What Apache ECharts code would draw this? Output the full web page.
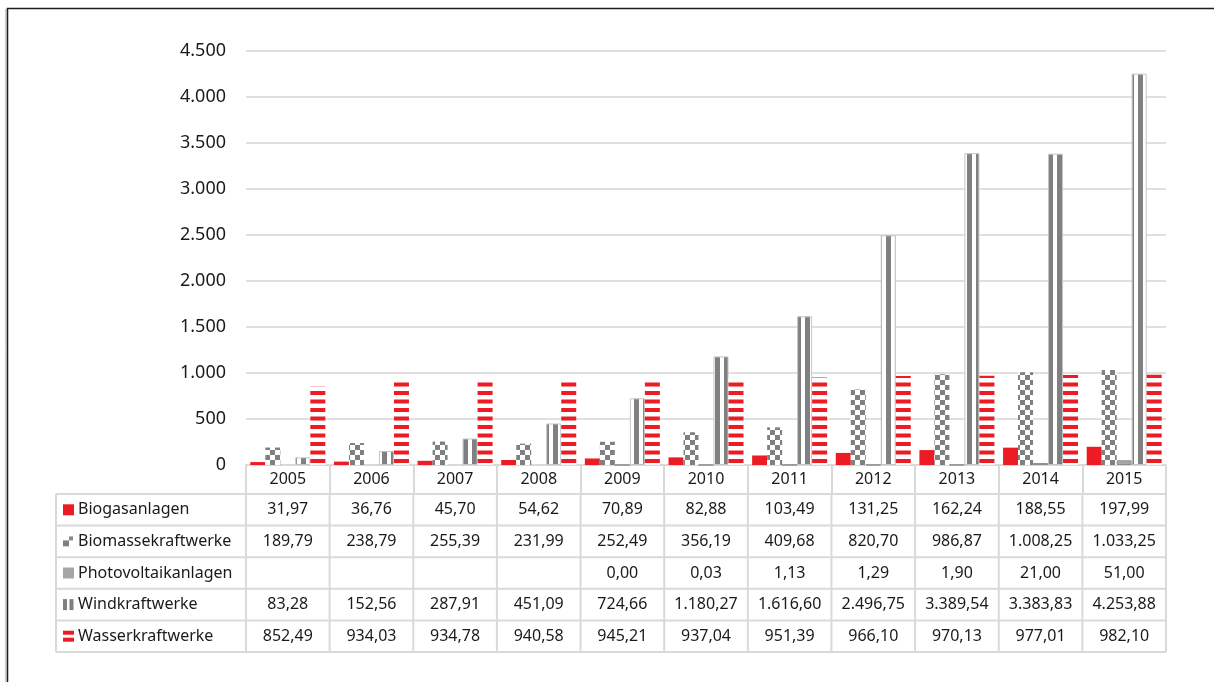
<!DOCTYPE html>
<html>
<head>
<meta charset="utf-8">
<script src="https://cdn.jsdelivr.net/npm/echarts@6/dist/echarts.min.js"></script>
<style>
html,body{margin:0;padding:0;background:#fff;}
#chart{width:1214px;height:682px;}
</style>
</head>
<body>
<div id="chart"></div>
<script>
// ---- data ----
const years = ['2005','2006','2007','2008','2009','2010','2011','2012','2013','2014','2015'];
const seriesNames = ['Biogasanlagen','Biomassekraftwerke','Photovoltaikanlagen','Windkraftwerke','Wasserkraftwerke'];
const biogas = [31.97,36.76,45.70,54.62,70.89,82.88,103.49,131.25,162.24,188.55,197.99];
const biomasse = [189.79,238.79,255.39,231.99,252.49,356.19,409.68,820.70,986.87,1008.25,1033.25];
const photovoltaik = [null,null,null,null,0.00,0.03,1.13,1.29,1.90,21.00,51.00];
const wind = [83.28,152.56,287.91,451.09,724.66,1180.27,1616.60,2496.75,3389.54,3383.83,4253.88];
const wasser = [852.49,934.03,934.78,940.58,945.21,937.04,951.39,966.10,970.13,977.01,982.10];
const yMin = 0, yMax = 4500, yStep = 500;

const allSeries = [biogas, biomasse, photovoltaik, wind, wasser];

// ---- styling helpers ----
const RED = '#ED1C24', GRAY = '#808080', PVGRAY = '#A6A6A6', LINE = '#D9D9D9';
const FONT = '"Noto Sans", "Open Sans", sans-serif';

function makeCanvas(w, h, draw) {
  const c = document.createElement('canvas');
  c.width = w; c.height = h;
  const g = c.getContext('2d');
  g.fillStyle = '#fff'; g.fillRect(0, 0, w, h);
  draw(g);
  return c;
}
const checker = makeCanvas(10, 10, g => {
  g.fillStyle = GRAY; g.fillRect(0, 0, 5, 5); g.fillRect(5, 5, 5, 5);
});
const vstripes = makeCanvas(9, 4, g => {
  g.fillStyle = GRAY; g.fillRect(4, 0, 5, 4);
});
const hstripes = makeCanvas(4, 17, g => {
  g.fillStyle = RED; g.fillRect(0, 0, 4, 4); g.fillRect(0, 8.5, 4, 4);
});

function fmt(v) {
  if (v === null || v === undefined) return '';
  const parts = v.toFixed(2).split('.');
  return parts[0].replace(/\B(?=(\d{3})+(?!\d))/g, '.') + ',' + parts[1];
}
function fmtInt(v) {
  return String(v).replace(/\B(?=(\d{3})+(?!\d))/g, '.');
}

const itemStyles = [
  { color: RED },
  { color: { image: checker, repeat: 'repeat' } },
  { color: PVGRAY, borderColor: '#8C8C8C', borderWidth: 1 },
  { color: { image: vstripes, repeat: 'repeat' }, borderColor: '#C4C4C4', borderWidth: 1 },
  { color: { image: hstripes, repeat: 'repeat' } }
];

const chart = echarts.init(document.getElementById('chart'), null, { renderer: 'canvas' });

const option = {
  animation: false,
  backgroundColor: '#fff',
  textStyle: { fontFamily: FONT },
  grid: { left: 246, right: 48, top: 51, bottom: 217, containLabel: false },
  xAxis: {
    type: 'category',
    data: years,
    axisLine: { show: true, lineStyle: { color: LINE, width: 2 } },
    axisTick: { show: true, interval: 0, length: 29, alignWithLabel: false, lineStyle: { color: LINE, width: 2 } },
    axisLabel: { interval: 0, margin: 6, fontSize: 16, color: '#1a1a1a', fontFamily: FONT },
    splitLine: { show: false }
  },
  yAxis: {
    type: 'value',
    min: yMin, max: yMax, interval: yStep,
    axisLine: { show: false },
    axisTick: { show: false },
    axisLabel: { margin: 20, fontSize: 18, color: '#1a1a1a', fontFamily: FONT, formatter: fmtInt },
    splitLine: { show: true, lineStyle: { color: '#E0E0E0', width: 2 } }
  },
  series: seriesNames.map((name, i) => ({
    name: name,
    type: 'bar',
    data: allSeries[i],
    barWidth: 15,
    barGap: '0%',
    itemStyle: itemStyles[i],
    emphasis: { disabled: true }
  }))
};
chart.setOption(option);

// ---- data table below the axis, positioned from the axis scale ----
const c0 = chart.convertToPixel({ xAxisIndex: 0 }, years[0]);
const c1 = chart.convertToPixel({ xAxisIndex: 0 }, years[1]);
const band = c1 - c0;
const tableLeftX = c0 - band / 2;
const tableRightX = tableLeftX + band * years.length;
const axisY = chart.convertToPixel({ yAxisIndex: 0 }, 0);
const headerH = 29;
const rowH = 31.6;
const labelColLeft = 56;
const bodyTop = axisY + headerH;
const bodyBottom = bodyTop + rowH * seriesNames.length;

const g = [];
// frame
g.push({ type: 'polyline', shape: { points: [[7.5, 682], [7.5, 8.5], [1214, 8.5]] },
  style: { stroke: '#1e1e1e', lineWidth: 1.5, fill: null }, silent: true, z: 10 });
g.push({ type: 'line', shape: { x1: 6, y1: 9, x2: 6, y2: 682 }, style: { stroke: '#9a9a9a', lineWidth: 1 }, silent: true, z: 10 });

// horizontal lines
for (let k = 0; k <= seriesNames.length; k++) {
  const y = bodyTop + k * rowH;
  g.push({ type: 'line', shape: { x1: labelColLeft, y1: y, x2: tableRightX, y2: y },
    style: { stroke: LINE, lineWidth: 2 }, silent: true });
}
// vertical lines
g.push({ type: 'line', shape: { x1: labelColLeft, y1: bodyTop, x2: labelColLeft, y2: bodyBottom },
  style: { stroke: LINE, lineWidth: 2 }, silent: true });
for (let j = 0; j <= years.length; j++) {
  const x = tableLeftX + j * band;
  g.push({ type: 'line', shape: { x1: x, y1: bodyTop, x2: x, y2: bodyBottom },
    style: { stroke: LINE, lineWidth: 2 }, silent: true });
}
// row labels, icons and values
seriesNames.forEach((name, i) => {
  const cy = bodyTop + i * rowH + rowH / 2;
  const ix = 63;
  if (i === 0) {
    g.push({ type: 'rect', shape: { x: ix, y: cy - 5.5, width: 11, height: 11 }, style: { fill: RED } });
  } else if (i === 1) {
    g.push({ type: 'rect', shape: { x: ix, y: cy - 1, width: 6, height: 6 }, style: { fill: GRAY } });
    g.push({ type: 'rect', shape: { x: ix + 6, y: cy - 5, width: 4, height: 4 }, style: { fill: '#8a8a8a' } });
  } else if (i === 2) {
    g.push({ type: 'rect', shape: { x: ix, y: cy - 5.5, width: 11, height: 11 }, style: { fill: PVGRAY } });
  } else if (i === 3) {
    g.push({ type: 'rect', shape: { x: ix, y: cy - 5.5, width: 4, height: 11 }, style: { fill: GRAY } });
    g.push({ type: 'rect', shape: { x: ix + 6.5, y: cy - 5.5, width: 4, height: 11 }, style: { fill: GRAY } });
  } else {
    g.push({ type: 'rect', shape: { x: ix, y: cy - 5.5, width: 11, height: 4 }, style: { fill: RED } });
    g.push({ type: 'rect', shape: { x: ix, y: cy + 1.5, width: 11, height: 4 }, style: { fill: RED } });
  }
  g.push({ type: 'text', x: 78, y: cy, style: { text: name, font: '16px ' + FONT, fill: '#1a1a1a',
    textAlign: 'left', textVerticalAlign: 'middle' } });
  allSeries[i].forEach((v, j) => {
    const cx = chart.convertToPixel({ xAxisIndex: 0 }, years[j]);
    g.push({ type: 'text', x: cx, y: cy, style: { text: fmt(v), font: '16px ' + FONT, fill: '#1a1a1a',
      textAlign: 'center', textVerticalAlign: 'middle' } });
  });
});

chart.setOption({ graphic: { elements: g } });
</script>
</body>
</html>
